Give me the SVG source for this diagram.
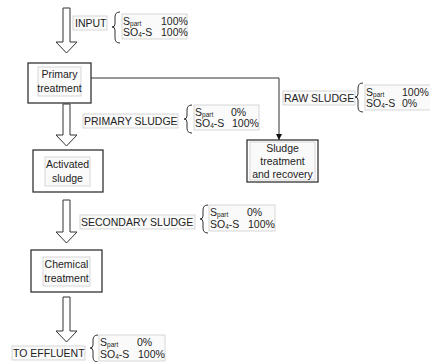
<svg xmlns="http://www.w3.org/2000/svg" width="430" height="362" viewBox="0 0 430 362">
<defs>
<style>
text{font-family:"Liberation Sans",Arial,sans-serif;font-size:10.5px;fill:#222}
.sub{font-size:6.5px}
.box{fill:#fff;stroke:#333;stroke-width:1.3}
.lbl{fill:#fafafa;stroke:#ccc;stroke-width:0.8}
.arr{fill:#fff;stroke:#333;stroke-width:1}
.brace{fill:none;stroke:#333;stroke-width:1}
.c{text-anchor:middle}
</style>
<marker id="ah" markerWidth="8" markerHeight="8" refX="6" refY="3" orient="auto" markerUnits="userSpaceOnUse">
<path d="M0,0 L6,3 L0,6 Z" fill="#111"/>
</marker>
</defs>
<rect width="430" height="362" fill="#fff"/>

<g id="connectors">
<polygon class="arr" points="63,8 70,8 70,42 77,42 66.5,53 56,42 63,42"/>
<polygon class="arr" points="63,104 70,104 70,135 77,135 66.5,146 56,135 63,135"/>
<polygon class="arr" points="63,200 70,200 70,232 77,232 66.5,243 56,232 63,232"/>
<polygon class="arr" points="63,297 70,297 70,331 77,331 66.5,342 56,331 63,331"/>
<polyline points="91,78 279,78 279,140" fill="none" stroke="#333" stroke-width="1" marker-end="url(#ah)"/>
</g>

<g id="input">
<rect class="lbl" x="73" y="16" width="34" height="14"/>
<text x="75" y="27">INPUT</text>
<path class="brace" d="M120,12 Q115,12 115,17 L115,24 Q115,27 112,27 Q115,27 115,30 L115,38 Q115,43 120,43"/>
<rect class="lbl" x="122" y="14" width="65" height="25"/>
<text x="123" y="25">S<tspan class="sub" dy="1">part</tspan></text>
<text x="161" y="25">100%</text>
<text x="123" y="36">SO<tspan class="sub" dy="1">4</tspan><tspan dy="-1">-S</tspan></text>
<text x="161" y="36">100%</text>
</g>

<g id="primary-treatment">
<rect class="box" x="28" y="63" width="63" height="40"/>
<rect class="lbl" x="38" y="67" width="43" height="29"/>
<text class="c" x="59.5" y="78">Primary</text>
<text class="c" x="59.5" y="92">treatment</text>
</g>

<g id="raw-sludge">
<rect class="lbl" x="283" y="91" width="72" height="14"/>
<text x="284" y="102">RAW SLUDGE</text>
<path class="brace" d="M363,83 Q358,83 358,88 L358,94 Q358,97 355,97 Q358,97 358,100 L358,107 Q358,112 363,112"/>
<rect class="lbl" x="365" y="85" width="70" height="25"/>
<text x="366" y="96">S<tspan class="sub" dy="1">part</tspan></text>
<text x="402" y="96">100%</text>
<text x="366" y="107">SO<tspan class="sub" dy="1">4</tspan><tspan dy="-1">-S</tspan></text>
<text x="402" y="107">0%</text>
</g>

<g id="sludge-treatment">
<rect class="box" x="247" y="140" width="71" height="42"/>
<rect class="lbl" x="250" y="142" width="65" height="38"/>
<text class="c" x="282.5" y="152">Sludge</text>
<text class="c" x="282.5" y="165">treatment</text>
<text class="c" x="282.5" y="178">and recovery</text>
</g>

<g id="primary-sludge">
<rect class="lbl" x="83" y="114" width="95" height="14"/>
<text x="84" y="125">PRIMARY SLUDGE</text>
<path class="brace" d="M192,105 Q187,105 187,110 L187,116 Q187,119 184,119 Q187,119 187,122 L187,128 Q187,133 192,133"/>
<rect class="lbl" x="194" y="105" width="65" height="25"/>
<text x="195" y="116">S<tspan class="sub" dy="1">part</tspan></text>
<text x="231" y="116">0%</text>
<text x="195" y="127">SO<tspan class="sub" dy="1">4</tspan><tspan dy="-1">-S</tspan></text>
<text x="232" y="127">100%</text>
</g>

<g id="activated-sludge">
<rect class="box" x="33" y="150" width="70" height="42"/>
<rect class="lbl" x="45" y="157" width="45" height="29"/>
<text class="c" x="67.5" y="168">Activated</text>
<text class="c" x="67.5" y="182">sludge</text>
</g>

<g id="secondary-sludge">
<rect class="lbl" x="80" y="215" width="115" height="14"/>
<text x="81" y="226">SECONDARY SLUDGE</text>
<path class="brace" d="M208,205 Q203,205 203,210 L203,216 Q203,219 200,219 Q203,219 203,222 L203,228 Q203,233 208,233"/>
<rect class="lbl" x="209" y="205" width="66" height="26"/>
<text x="210" y="216">S<tspan class="sub" dy="1">part</tspan></text>
<text x="247" y="216">0%</text>
<text x="210" y="228">SO<tspan class="sub" dy="1">4</tspan><tspan dy="-1">-S</tspan></text>
<text x="248" y="228">100%</text>
</g>

<g id="chemical-treatment">
<rect class="box" x="31" y="250" width="71" height="42"/>
<rect class="lbl" x="43" y="257" width="47" height="29"/>
<text class="c" x="66.5" y="268">Chemical</text>
<text class="c" x="66.5" y="282">treatment</text>
</g>

<g id="to-effluent">
<rect class="lbl" x="12" y="346" width="73" height="14"/>
<text x="13" y="357">TO EFFLUENT</text>
<path class="brace" d="M98,335 Q93,335 93,340 L93,345 Q93,348 90,348 Q93,348 93,351 L93,357 Q93,362 98,362"/>
<rect class="lbl" x="99" y="335" width="66" height="26"/>
<text x="100" y="346">S<tspan class="sub" dy="1">part</tspan></text>
<text x="137" y="346">0%</text>
<text x="100" y="358">SO<tspan class="sub" dy="1">4</tspan><tspan dy="-1">-S</tspan></text>
<text x="138" y="358">100%</text>
</g>
</svg>
